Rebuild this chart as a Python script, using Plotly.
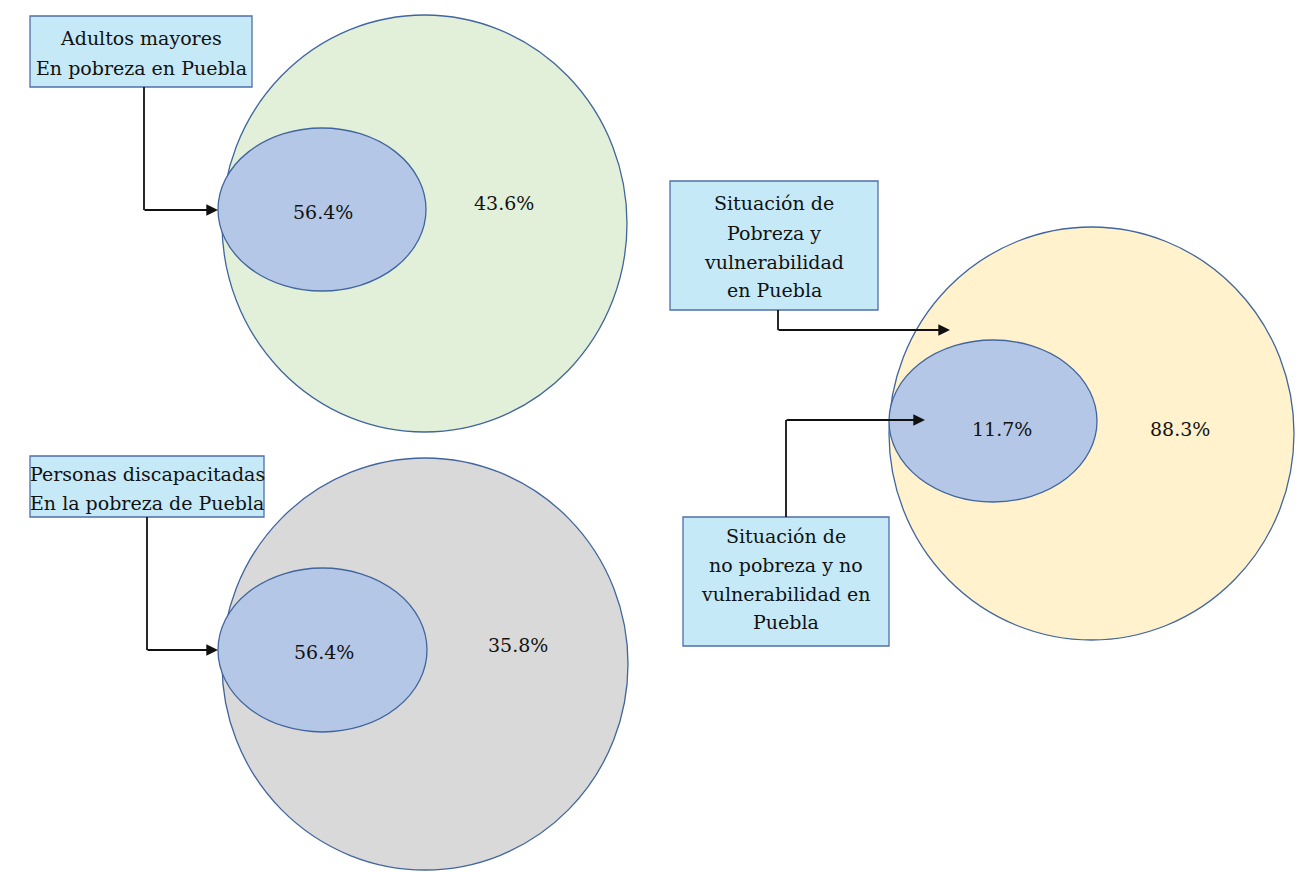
import plotly.graph_objects as go

# ---- data ----
group_labels = [
    "Adultos mayores<br>En pobreza en Puebla",
    "Personas discapacitadas<br>En la pobreza de Puebla",
    "Situación de<br>Pobreza y<br>vulnerabilidad<br>en Puebla",
]
inner_values = [56.4, 56.4, 11.7]
outer_values = [43.6, 35.8, 88.3]
extra_label = "Situación de<br>no pobreza y no<br>vulnerabilidad en<br>Puebla"

# ---- layout geometry (pixels of the page) ----
W, H = 1303, 872
OFF = 8  # page body margin
outer_ell = [(222, 15, 627, 432), (222, 458, 628, 870), (889, 227, 1294, 640)]
inner_ell = [(218, 128, 426, 291), (218, 568, 427, 732), (889, 340, 1097, 502)]
outer_fill = ["#E2F0D9", "#D9D9D9", "#FFF2CC"]
inner_text_pos = [(323, 212), (324, 652), (1002, 429)]
outer_text_pos = [(504, 203), (518, 645), (1180, 429)]
boxes = [(30, 16, 252, 87), (30, 456, 264, 517), (670, 181, 878, 310), (683, 517, 889, 646)]
box_text_x = [141, 147, 774, 786]
box_line_y = [[38, 68], [474, 503], [203, 233, 262, 290], [536, 565, 594, 622]]
connectors = [(144, 87, 210, 218), (147, 517, 650, 218), (778, 310, 330, 950), (786, 517, 420, 925)]

font_family = "DejaVu Serif"
edge = "#41659E"

fig = go.Figure()
fig.add_trace(go.Scatter(x=[OFF, W], y=[OFF, H], mode="markers", marker=dict(opacity=0),
                         hoverinfo="skip", showlegend=False))

shapes = []
annotations = []
for i in range(3):
    x0, y0, x1, y1 = outer_ell[i]
    shapes.append(dict(type="circle", xref="x", yref="y", x0=x0, y0=y0, x1=x1, y1=y1,
                       fillcolor=outer_fill[i], line=dict(color=edge, width=1.3), layer="above"))
for i in range(3):
    x0, y0, x1, y1 = inner_ell[i]
    shapes.append(dict(type="circle", xref="x", yref="y", x0=x0, y0=y0, x1=x1, y1=y1,
                       fillcolor="#B4C7E7", line=dict(color=edge, width=1.3), layer="above"))
for (x0, y0, x1, y1) in boxes:
    shapes.append(dict(type="rect", xref="x", yref="y", x0=x0, y0=y0, x1=x1, y1=y1,
                       fillcolor="#C5E9F7", line=dict(color="#4F6FA8", width=1.3), layer="above"))
for (xv, ys, yt, xe) in connectors:
    shapes.append(dict(type="line", xref="x", yref="y", x0=xv, y0=ys, x1=xv, y1=yt,
                       line=dict(color="#111111", width=1.8), layer="above"))
    annotations.append(dict(x=xe, y=yt, ax=xv - 1, ay=yt, xref="x", yref="y", axref="x", ayref="y",
                            text="", showarrow=True, arrowhead=2, arrowsize=1.3, arrowwidth=1.8,
                            arrowcolor="#111111"))

for i in range(3):
    annotations.append(dict(x=inner_text_pos[i][0], y=inner_text_pos[i][1], xref="x", yref="y",
                            text=f"{inner_values[i]}%", showarrow=False,
                            font=dict(family=font_family, size=19, color="#111111")))
    annotations.append(dict(x=outer_text_pos[i][0], y=outer_text_pos[i][1], xref="x", yref="y",
                            text=f"{outer_values[i]}%", showarrow=False,
                            font=dict(family=font_family, size=19, color="#111111")))

all_box_labels = group_labels + [extra_label]
for i, lbl in enumerate(all_box_labels):
    for line_text, ly in zip(lbl.split("<br>"), box_line_y[i]):
        annotations.append(dict(x=box_text_x[i], y=ly, xref="x", yref="y",
                                text=line_text, showarrow=False, align="center",
                                font=dict(family=font_family, size=19, color="#111111")))

fig.update_layout(
    width=W, height=H, margin=dict(l=0, r=0, t=0, b=0),
    paper_bgcolor="white", plot_bgcolor="white",
    font=dict(family=font_family),
    xaxis=dict(range=[OFF, W + OFF], visible=False, fixedrange=True),
    yaxis=dict(range=[H + OFF, OFF], visible=False, fixedrange=True),
    shapes=shapes, annotations=annotations, showlegend=False,
)
fig.write_html("out.html")
